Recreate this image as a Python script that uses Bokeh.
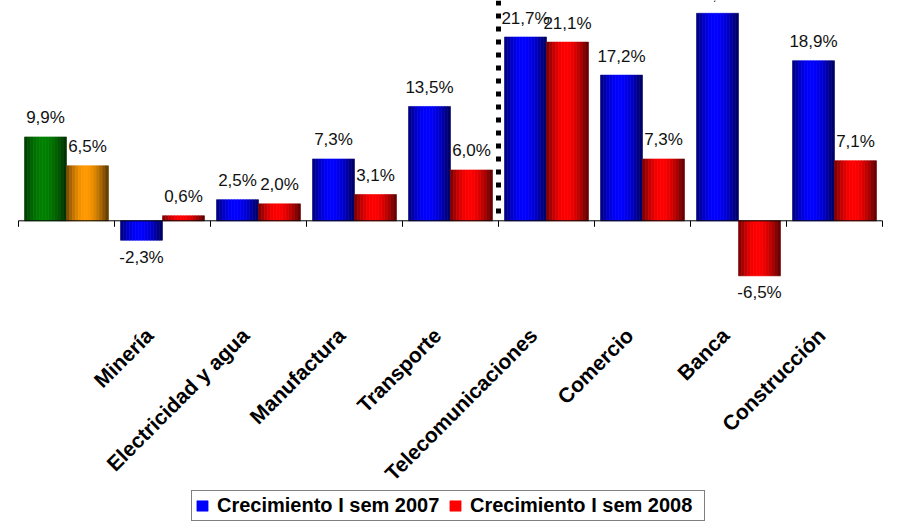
import numpy as np
from math import pi
from bokeh.plotting import figure
from bokeh.models import Range1d, ColumnDataSource, Legend, LegendItem
from bokeh.core.properties import value
from bokeh.embed import file_html
from bokeh.resources import INLINE

# ---------------- data ----------------
categories = ["", "Minería", "Electricidad y agua", "Manufactura", "Transporte",
              "Telecomunicaciones", "Comercio", "Banca", "Construcción"]
crec_2007 = [9.9, -2.3, 2.5, 7.3, 13.5, 21.7, 17.2, 24.5, 18.9]
crec_2008 = [6.5, 0.6, 2.0, 3.1, 6.0, 21.1, 7.3, -6.5, 7.1]
series_names = ["Crecimiento I sem 2007", "Crecimiento I sem 2008"]
divider_after = 5

# ---------------- style ----------------
FONT_NAME = "Liberation Sans"
FONT = value(FONT_NAME)
base_2007 = [(0, 128, 0)] + [(0, 0, 255)] * 8
base_2008 = [(255, 153, 0)] + [(255, 0, 0)] * 8

W, H = 898, 522
X0_PX, CAT_PX, Y0_PX, PX_PER_UNIT = 18, 96, 220.3, 8.47
n = len(categories)

p = figure(width=W, height=H, output_backend="svg", toolbar_location=None,
           x_range=Range1d(-X0_PX / CAT_PX, (W - X0_PX) / CAT_PX),
           y_range=Range1d(-(H - Y0_PX) / PX_PER_UNIT, Y0_PX / PX_PER_UNIT),
           x_axis_location=None, y_axis_location=None, min_border=0)
p.grid.visible = False
p.outline_line_color = None
p.background_fill_color = "white"

bar_w = 0.4375
gap = (1 - 2 * bar_w) / 2
offsets = [gap + bar_w / 2, gap + 1.5 * bar_w]
n_strips = 14
t = (np.arange(n_strips) + 0.5) / n_strips
prof = np.where(t < 0.45, 0.45 + 0.55 * np.sin(pi / 2 * t / 0.45),
                0.35 + 0.65 * np.cos(pi / 2 * (t - 0.45) / 0.55))
sw = bar_w / n_strips
peak = int(np.argmax(prof))

def hexc(rgb, f):
    return "#%02x%02x%02x" % tuple(int(round(c * f)) for c in rgb)

legend_refs = []
idx = np.arange(n)
for vals, bases, off in [(crec_2007, base_2007, offsets[0]), (crec_2008, base_2008, offsets[1])]:
    peak_r = None
    for k in range(n_strips):
        xs = idx + off - bar_w / 2 + (k + 0.5) * sw
        cols = [hexc(b, prof[k]) for b in bases]
        src = ColumnDataSource(dict(x=xs, top=vals, color=cols))
        r = p.vbar(x="x", top="top", bottom=0, width=sw, source=src,
                   fill_color="color", line_color="color", line_width=0.6)
        if k == peak:
            peak_r = r
    legend_refs.append(peak_r)

# zero line and ticks
p.line(x=[0, n], y=[0, 0], line_color="black", line_width=1)
p.ray(x=list(range(n + 1)), y=[0] * (n + 1), length=6, length_units="screen",
      angle=-pi / 2, line_color="black", line_width=1)

# dotted separator
p.segment(x0=[divider_after], y0=[p.y_range.end], x1=[divider_after], y1=[0],
          line_color="black", line_width=5, line_dash="5 8")

# value labels
for vals, off in [(crec_2007, offsets[0]), (crec_2008, offsets[1])]:
    src = ColumnDataSource(dict(
        x=idx + off, y=vals,
        txt=[("%.1f%%" % v).replace(".", ",") for v in vals],
        yoff=[-19 if v >= 0 else 17 for v in vals]))
    p.text(x="x", y="y", text="txt", source=src, y_offset="yoff",
           text_align="center", text_baseline="middle", text_font=FONT,
           text_font_size="17px", text_color="#111111")

# category labels
src = ColumnDataSource(dict(x=idx + 0.5, y=[0] * n, txt=categories))
p.text(x="x", y="y", text="txt", source=src, angle=pi / 4, x_offset=-13, y_offset=111,
       text_align="right", text_baseline="middle", text_font=FONT,
       text_font_style="bold", text_font_size="21px", text_color="black")

legend = Legend(items=[LegendItem(label=series_names[0], renderers=[legend_refs[0]], index=1),
                       LegendItem(label=series_names[1], renderers=[legend_refs[1]], index=1)],
                orientation="horizontal", location=(191, 1),
                border_line_color="black", border_line_width=1,
                background_fill_color="white", background_fill_alpha=1,
                padding=3, spacing=0, label_standoff=8, label_width=231,
                glyph_width=14, glyph_height=13, margin=0,
                label_text_font=FONT_NAME, label_text_font_style="bold",
                label_text_font_size="20px", label_text_color="black")
p.add_layout(legend, "center")

open("out.html", "w").write(file_html(p, INLINE))
